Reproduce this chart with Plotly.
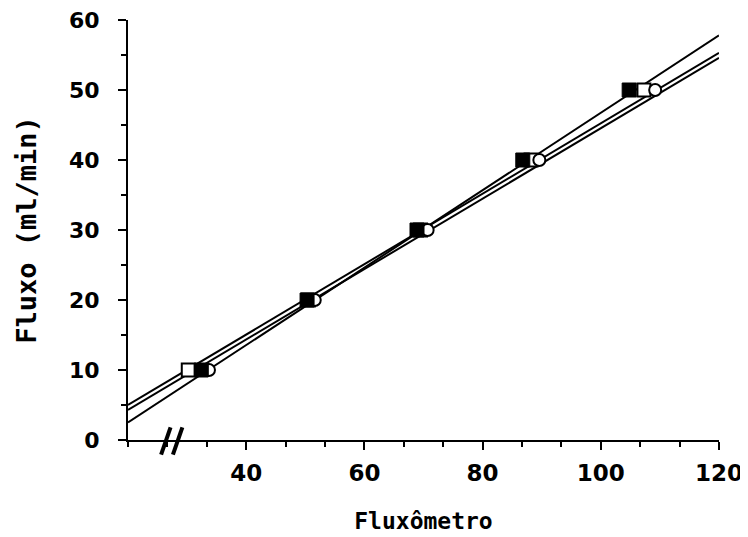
import plotly.graph_objects as go

# Data
flow_levels = [10, 20, 30, 40, 50]              # Fluxo (ml/min)
meter_open_sq = [30.2, 50.5, 69.5, 88.2, 107.3]  # open squares
meter_filled_sq = [32.4, 50.3, 68.9, 86.8, 104.8]  # filled squares
meter_circle = [33.7, 51.6, 70.7, 89.6, 109.2]   # open circles

# regression lines (end values)
line_x = [20, 120]
line_open_sq = [5.0, 55.3]
line_filled_sq = [2.5, 57.8]
line_circle = [4.3, 54.6]

x_ticks = [40, 60, 80, 100, 120]
y_ticks = [0, 10, 20, 30, 40, 50, 60]

fig = go.Figure()

for ly in [line_open_sq, line_filled_sq, line_circle]:
    fig.add_trace(go.Scatter(x=line_x, y=ly, mode="lines",
                             line=dict(color="black", width=2),
                             showlegend=False, hoverinfo="skip"))

fig.add_trace(go.Scatter(x=meter_open_sq, y=flow_levels, mode="markers",
                         marker=dict(symbol="square", size=13, color="white",
                                     line=dict(color="black", width=2)),
                         showlegend=False))
fig.add_trace(go.Scatter(x=meter_circle, y=flow_levels, mode="markers",
                         marker=dict(symbol="circle", size=12, color="white",
                                     line=dict(color="black", width=2)),
                         showlegend=False))
fig.add_trace(go.Scatter(x=meter_filled_sq, y=flow_levels, mode="markers",
                         marker=dict(symbol="square", size=14, color="black",
                                     line=dict(color="black", width=1)),
                         showlegend=False))

font_fam = "DejaVu Sans"
title_fam = "DejaVu Sans Mono"

# axis break marks "//"
for xb, xt in [(25.6, 27.2), (27.6, 29.2)]:
    fig.add_shape(type="line", xref="x", yref="paper",
                  x0=xb, x1=xt, y0=-0.035, y1=0.03,
                  line=dict(color="black", width=4))

fig.update_layout(
    width=740, height=529,
    margin=dict(l=120, r=29, t=12, b=97),
    paper_bgcolor="white", plot_bgcolor="white",
    font=dict(family=font_fam, color="black"),
    xaxis=dict(range=[20, 120], tickvals=x_ticks, ticks="outside", ticklen=8,
               tickwidth=2, tickcolor="black", automargin=False,
               ticklabelstandoff=3, ticklabeloverflow="allow",
               minor=dict(dtick=20/3, tick0=0, ticks="outside", ticklen=5,
                          tickcolor="black", tickwidth=1.5),
               showline=True, linecolor="black", linewidth=2,
               showgrid=False, zeroline=False,
               tickfont=dict(size=23, family=font_fam, weight="bold"),
               title=dict(text="Fluxômetro",
                          font=dict(size=23, family=title_fam, weight="bold"),
                          standoff=28)),
    yaxis=dict(range=[0, 60], tickvals=y_ticks, ticks="outside", ticklen=8,
               tickwidth=2, tickcolor="black", automargin=False,
               ticklabelstandoff=14, ticklabeloverflow="allow",
               minor=dict(dtick=5, tick0=0, ticks="outside", ticklen=5,
                          tickcolor="black", tickwidth=1.5),
               showline=True, linecolor="black", linewidth=2,
               showgrid=False, zeroline=False,
               tickfont=dict(size=22, family=font_fam, weight="bold"),
               title=dict(text="Fluxo (ml/min)",
                          font=dict(size=27, family=title_fam, weight="bold"),
                          standoff=25)),
)

fig.write_html("out.html")
